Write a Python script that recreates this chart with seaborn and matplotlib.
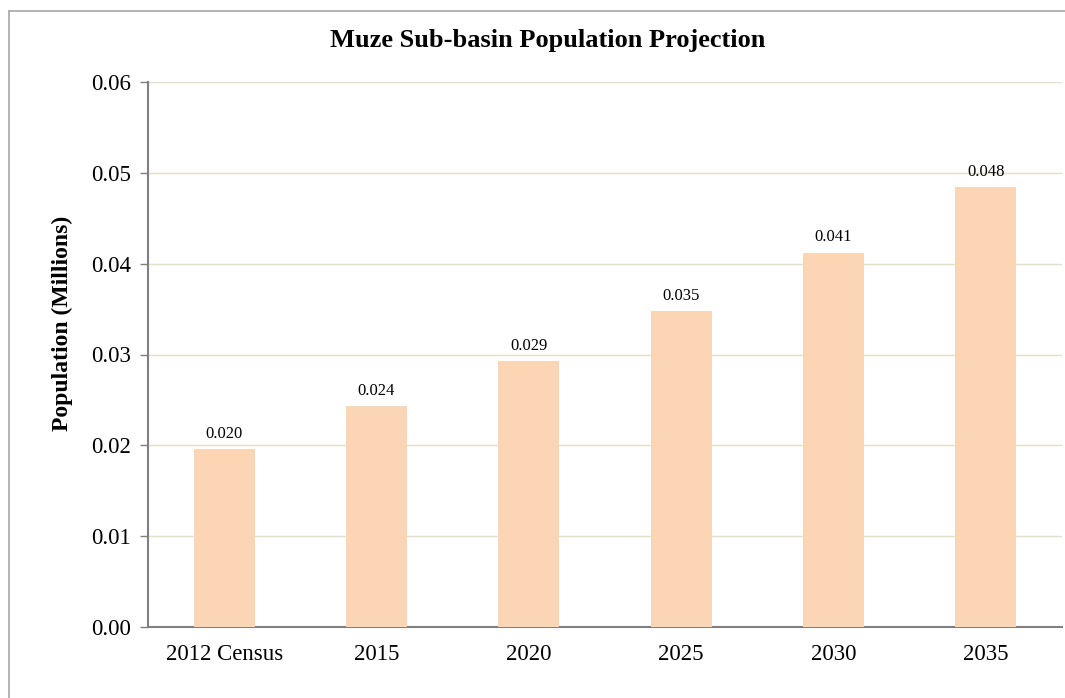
import matplotlib
matplotlib.use("Agg")
import matplotlib.pyplot as plt
import seaborn as sns
import pandas as pd
from matplotlib.lines import Line2D

categories = ["2012 Census", "2015", "2020", "2025", "2030", "2035"]
population = [0.0196, 0.0243, 0.0293, 0.0348, 0.0412, 0.0484]
value_labels = ["0.020", "0.024", "0.029", "0.035", "0.041", "0.048"]
y_ticks = [0.00, 0.01, 0.02, 0.03, 0.04, 0.05, 0.06]

sns.set_theme(style="white")
plt.rcParams['font.family'] = ['Liberation Serif', 'DejaVu Serif']
plt.rcParams['text.color'] = 'black'
plt.rcParams['xtick.color'] = 'black'
plt.rcParams['ytick.color'] = 'black'
plt.rcParams['axes.labelcolor'] = 'black'

df = pd.DataFrame({"Year": categories, "Population": population})

fig = plt.figure(figsize=(10.65, 6.98), dpi=100)
ax = fig.add_axes([148/1065, 1-627/698, (1062-148)/1065, (627-82)/698])

sns.barplot(data=df, x="Year", y="Population", color="#FCD5B5", saturation=1,
            width=0.4, ax=ax, zorder=3, linewidth=0)

ax.set_ylim(0, 0.06)
ax.set_xlim(-0.5, len(categories) - 0.5)
ax.set_yticks(y_ticks)
ax.set_yticklabels([f"{v:.2f}" for v in y_ticks], fontsize=16.5)
ax.yaxis.grid(True, color="#E3DFC9", linewidth=1, zorder=0)
ax.set_axisbelow(True)

ax.set_xticks(range(len(categories)))
ax.set_xticklabels(categories, fontsize=16.5)
ax.tick_params(axis="x", which="major", length=0, pad=12)
ax.set_xticks([i - 0.5 for i in range(len(categories) + 1)], minor=True)
ax.tick_params(axis="x", which="minor", length=6, width=1, color="#808080", direction="out")
ax.tick_params(axis="y", which="major", length=6, width=1, color="#808080", labelcolor="black",
               direction="out", pad=6, left=True)

for s in ["top", "right"]:
    ax.spines[s].set_visible(False)
for s in ["left", "bottom"]:
    ax.spines[s].set_color("#808080")
    ax.spines[s].set_linewidth(1.5)

for i, (v, lab) in enumerate(zip(population, value_labels)):
    ax.text(i, v + 0.0008, lab, ha="center", va="bottom", fontsize=12, color="black")

ax.set_xlabel("")
ax.set_ylabel("")
fig.text(62/1065, 1-323/698, "Population (Millions)", rotation=90, ha="center", va="center",
         fontsize=17, fontweight="bold")

fig.text(548/1065, 1-40/698, "Muze Sub-basin Population Projection", ha="center", va="center",
         fontsize=19, fontweight="bold")

# outer border (top and left visible)
fig.add_artist(Line2D([9/1065, 1], [1-11/698, 1-11/698], transform=fig.transFigure,
                      color="#A6A6A6", linewidth=1.2))
fig.add_artist(Line2D([9/1065, 9/1065], [0, 1-11/698], transform=fig.transFigure,
                      color="#A6A6A6", linewidth=1.2))

fig.savefig("out.png", dpi=100)
